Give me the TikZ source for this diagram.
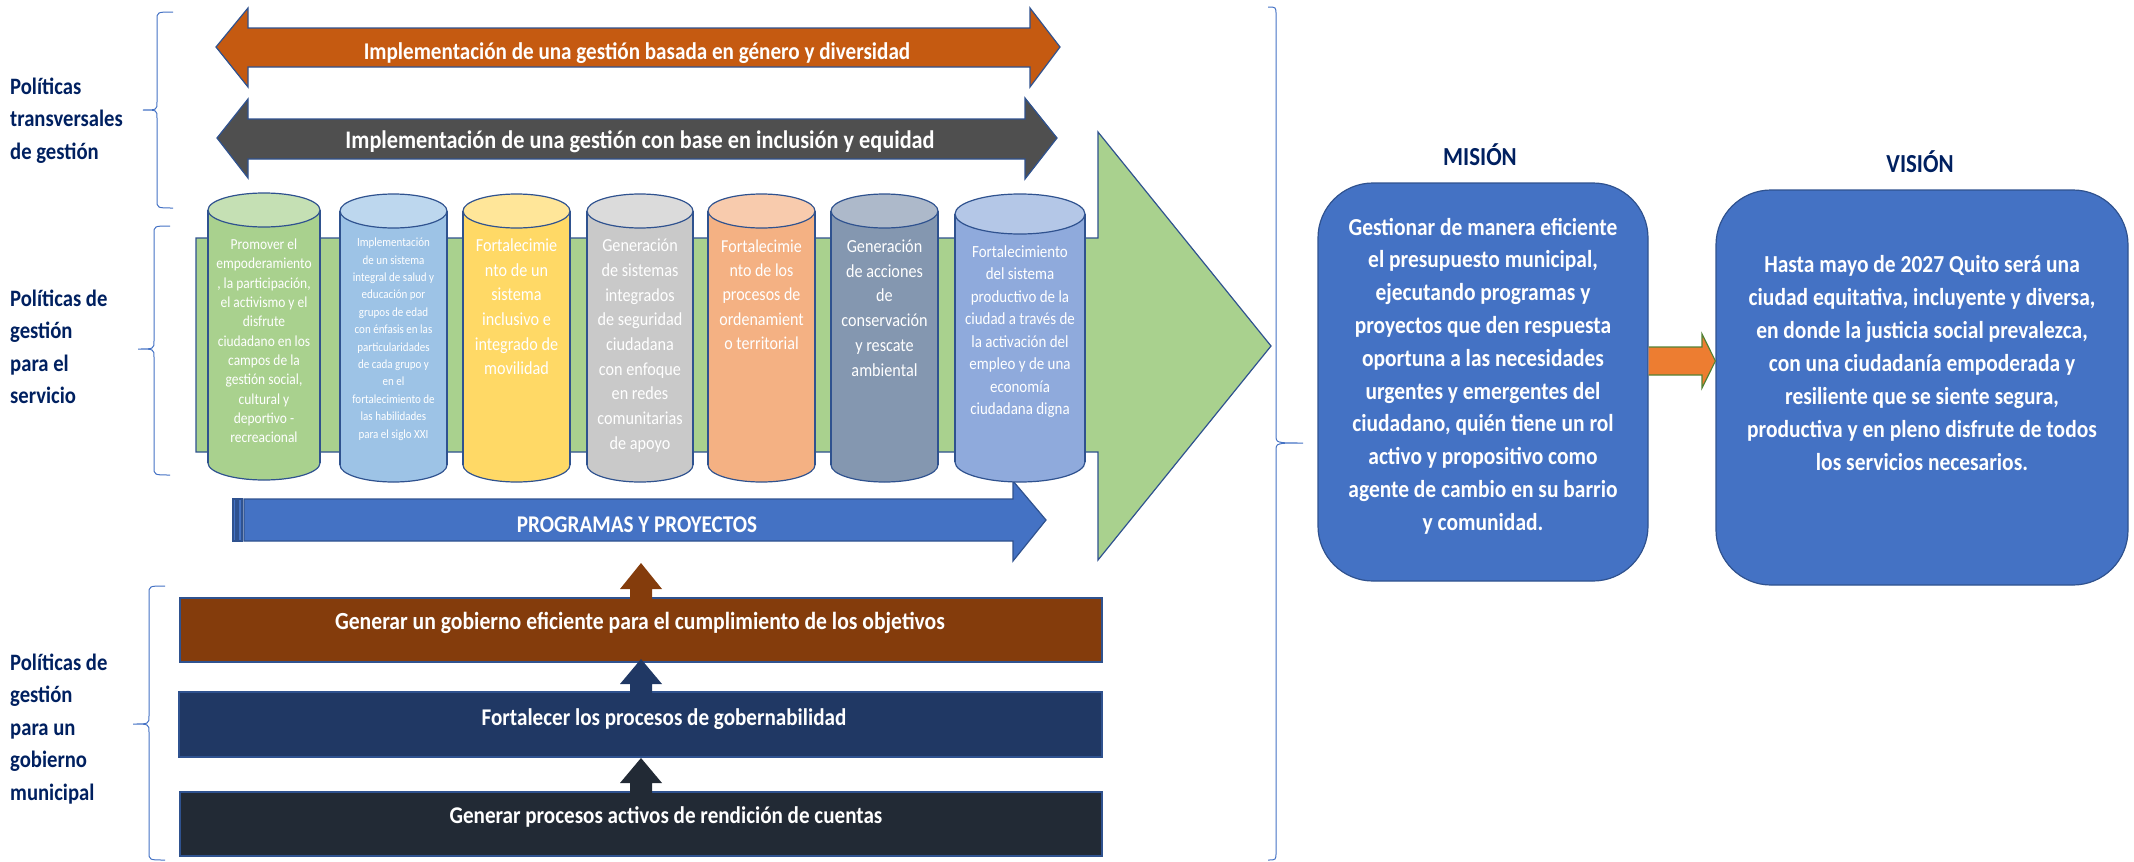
\documentclass[tikz,border=0pt]{standalone}
\usepackage{fontspec}
\setmainfont{Carlito}[FakeStretch=0.88]
\definecolor{outl}{HTML}{2F528F}
\definecolor{titleblue}{HTML}{002060}
\definecolor{braceblue}{HTML}{4472C4}
\definecolor{arrorange}{HTML}{C55A11}
\definecolor{arrgray}{HTML}{4F4F4F}
\definecolor{bggreen}{HTML}{A9D18E}
\definecolor{progblue}{HTML}{4472C4}
\definecolor{barbrown}{HTML}{843C0C}
\definecolor{barnavy}{HTML}{203864}
\definecolor{bardark}{HTML}{222A35}
\definecolor{boxblue}{HTML}{4472C4}
\definecolor{linkorange}{HTML}{ED7D31}
\definecolor{linkgreen}{HTML}{548235}
\definecolor{cA}{HTML}{A9D18E}\definecolor{cAt}{HTML}{C5E0B4}
\definecolor{cB}{HTML}{9DC3E6}\definecolor{cBt}{HTML}{BDD7EE}
\definecolor{cC}{HTML}{FFD966}\definecolor{cCt}{HTML}{FFE699}
\definecolor{cD}{HTML}{C9C9C9}\definecolor{cDt}{HTML}{DBDBDB}
\definecolor{cE}{HTML}{F4B183}\definecolor{cEt}{HTML}{F8CBAD}
\definecolor{cF}{HTML}{8497B0}\definecolor{cFt}{HTML}{ADB9CA}
\definecolor{cG}{HTML}{8FAADC}\definecolor{cGt}{HTML}{B4C7E7}
\newcommand\fsz[2]{\fontsize{#1}{#2}\selectfont}
% cylinder: left, right, top-centre y, bottom-centre y, ry, body colour, top colour
\newcommand\cylshape[7]{%
  \pgfmathsetmacro\cylcx{(#1+#2)/2}\pgfmathsetmacro\cylrx{(#2-#1)/2}%
  \filldraw[fill=#6,draw=outl,line width=1.2pt] (\cylcx,#4) ellipse[x radius=\cylrx pt, y radius=#5 pt];
  \fill[#6] (#1,#3) rectangle (#2,#4);
  \draw[outl,line width=1.2pt] (#1,#3) -- (#1,#4) (#2,#3) -- (#2,#4);
  \filldraw[fill=#7,draw=outl,line width=1.2pt] (\cylcx,#3) ellipse[x radius=\cylrx pt, y radius=#5 pt];
}
% brace: ends x, vertical x, tip x, top y, bottom y, tip y
\newcommand\mybrace[6]{%
  \draw[bracestyle] (#1,#4) .. controls (#2,#4) .. (#2,#4+8) -- (#2,#6-8)
    .. controls (#2,#6) .. (#3,#6) .. controls (#2,#6) .. (#2,#6+8) -- (#2,#5-8)
    .. controls (#2,#5) .. (#1,#5);
}
\tikzset{
  bracestyle/.style={draw=braceblue,line width=1pt},
  lbl/.style={text=titleblue,font=\bfseries\fsz{23.5}{32.5},align=left,anchor=north west,inner sep=0pt},
  cyltext/.style={text=white,align=center,anchor=north,inner sep=0pt},
  bartext/.style={text=white,font=\bfseries\fsz{24}{28},anchor=base,inner sep=0pt},
  bigbox/.style={fill=boxblue,draw=outl,line width=1.2pt,rounded corners=55pt,inner sep=0pt},
  shapeline/.style={draw=outl,line width=1.2pt},
}
\begin{document}
\begin{tikzpicture}[x=1pt,y=-1pt]
\useasboundingbox (0,0) rectangle (2134,862);

% ---- transversal double arrows
\filldraw[shapeline,fill=arrorange] (216,47) -- (248,8) -- (248,28) -- (1030,28) -- (1030,8) -- (1060,47)
  -- (1030,87) -- (1030,67) -- (248,67) -- (248,87) -- cycle;
\node[bartext] (t1) at (637,59) {Implementación de una gestión basada en género y diversidad};
\filldraw[shapeline,fill=arrgray] (217,138) -- (248,99) -- (248,119) -- (1025,119) -- (1025,98) -- (1057,138)
  -- (1025,179) -- (1025,159) -- (248,159) -- (248,178) -- cycle;
\node[bartext,font=\bfseries\fsz{25.3}{28}] (t2) at (640,148) {Implementación de una gestión con base en inclusión y equidad};

% ---- big green arrow
\filldraw[shapeline,fill=bggreen] (196,238) -- (1098,238) -- (1098,132) -- (1271,346) -- (1098,560)
  -- (1098,452) -- (196,452) -- cycle;

% ---- programas y proyectos arrow
\filldraw[shapeline,fill=progblue] (233,499) rectangle (236,541);
\filldraw[shapeline,fill=progblue] (238,499) rectangle (242,541);
\filldraw[shapeline,fill=progblue] (244,499) -- (1013,499) -- (1013,481) -- (1046,520) -- (1013,561)
  -- (1013,541) -- (244,541) -- cycle;
\node[bartext] (prog) at (637,532) {PROGRAMAS Y PROYECTOS};

% ---- cylinders
\cylshape{208}{320}{210}{463}{17}{cA}{cAt}
\cylshape{340}{447}{211}{465}{17}{cB}{cBt}
\cylshape{463}{570}{211}{465}{17}{cC}{cCt}
\cylshape{587}{693}{211}{465}{17}{cD}{cDt}
\cylshape{708}{815}{211}{465}{17}{cE}{cEt}
\cylshape{831}{938}{211}{465}{17}{cF}{cFt}
\cylshape{955}{1085}{214}{462}{20}{cG}{cGt}

\node[cyltext,font=\fsz{15.3}{19.3}] (c1) at (264,235.9) {\strut Promover el\\empoderamiento\\, la participación,\\el activismo y el\\disfrute\\ciudadano en los\\campos de la\\gestión social,\\cultural y\\deportivo -\\recreacional};
\node[cyltext,font=\fsz{12.5}{17.4}] (c2) at (393.5,234.4) {\strut Implementación\\de un sistema\\integral de salud y\\educación por\\grupos de edad\\con énfasis en las\\particularidades\\de cada grupo y\\en el\\fortalecimiento de\\las habilidades\\para el siglo XXI};
\node[cyltext,font=\fsz{18.4}{24.6}] (c3) at (516.5,234.2) {\strut Fortalecimie\\nto de un\\sistema\\inclusivo e\\integrado de\\movilidad};
\node[cyltext,font=\fsz{18.4}{24.7}] (c4) at (640,234.2) {\strut Generación\\de sistemas\\integrados\\de seguridad\\ciudadana\\con enfoque\\en redes\\comunitarias\\de apoyo};
\node[cyltext,font=\fsz{18.2}{24.2}] (c5) at (761.5,235.4) {\strut Fortalecimie\\nto de los\\procesos de\\ordenamient\\o territorial};
\node[cyltext,font=\fsz{18.4}{24.7}] (c6) at (884.5,235.1) {\strut Generación\\de acciones\\de\\conservación\\y rescate\\ambiental};
\node[cyltext,font=\fsz{17}{22.5}] (c7) at (1020,241.2) {\strut Fortalecimiento\\del sistema\\productivo de la\\ciudad a través de\\la activación del\\empleo y de una\\economía\\ciudadana digna};

% ---- municipal government bars
\filldraw[shapeline,fill=barbrown] (180,598) rectangle (1102,662);
\filldraw[shapeline,fill=barnavy] (179,692) rectangle (1102,757);
\filldraw[shapeline,fill=bardark] (180,792) rectangle (1102,856);
\node[bartext,font=\bfseries\fsz{24.6}{28}] (b1) at (640,629) {Generar un gobierno eficiente para el cumplimiento de los objetivos};
\node[bartext] (b2) at (664,725) {Fortalecer los procesos de gobernabilidad};
\node[bartext] (b3) at (666,823) {Generar procesos activos de rendición de cuentas};

% small up arrows
\fill[barbrown] (630,599) -- (630,589) -- (620,589) -- (641,563) -- (662,589) -- (652,589) -- (652,599) -- cycle;
\fill[barnavy] (630,693) -- (630,684) -- (620,684) -- (641,659) -- (662,684) -- (652,684) -- (652,693) -- cycle;
\fill[bardark] (630,793) -- (630,783) -- (620,783) -- (641,758) -- (662,783) -- (652,783) -- (652,793) -- cycle;

% ---- braces
\mybrace{173}{157}{143}{12}{208}{110}
\mybrace{170}{154}{138}{226}{475}{349}
\mybrace{165}{149}{133}{586}{860}{724}
\mybrace{1268}{1276}{1303}{7}{860}{443}

% ---- left labels
\node[lbl] (l1) at (10,71.2) {\strut Políticas\\transversales\\de gestión};
\node[lbl] (l2) at (10,283.2) {\strut Políticas de\\gestión\\para el\\servicio};
\node[lbl] (l3) at (10,647.2) {\strut Políticas de\\gestión\\para un\\gobierno\\municipal};

% ---- mission / vision
\node[bigbox,minimum width=330pt,minimum height=398pt] (mision) at (1483,382) {};
\node[bigbox,minimum width=412pt,minimum height=395pt] (vision) at (1922,387.5) {};
\node[text=titleblue,font=\bfseries\fsz{26}{30},anchor=base,inner sep=0pt] (mt) at (1480,165) {MISIÓN};
\node[text=titleblue,font=\bfseries\fsz{26}{30},anchor=base,inner sep=0pt] (vt) at (1920,172) {VISIÓN};
\node[text=white,font=\bfseries\fsz{24.4}{32.8},align=center,anchor=north,inner sep=0pt] (mtext) at (1483,211.9)
  {\strut Gestionar de manera eficiente\\el presupuesto municipal,\\ejecutando programas y\\proyectos que den respuesta\\oportuna a las necesidades\\urgentes y emergentes del\\ciudadano, quién tiene un rol\\activo y propositivo como\\agente de cambio en su barrio\\y comunidad.};
\node[text=white,font=\bfseries\fsz{24.4}{33},align=center,anchor=north,inner sep=0pt] (vtext) at (1922,248.8)
  {\strut Hasta mayo de 2027 Quito será una\\ciudad equitativa, incluyente y diversa,\\en donde la justicia social prevalezca,\\con una ciudadanía empoderada y\\resiliente que se siente segura,\\productiva y en pleno disfrute de todos\\los servicios necesarios.};

% orange link arrow
\filldraw[draw=linkgreen,line width=1.2pt,fill=linkorange] (mision.east |- 0,347) -- (1702,347) -- (1702,334)
  -- (vision.west |- 0,361) -- (1702,388) -- (1702,375) -- (mision.east |- 0,375);
\end{tikzpicture}
\end{document}
